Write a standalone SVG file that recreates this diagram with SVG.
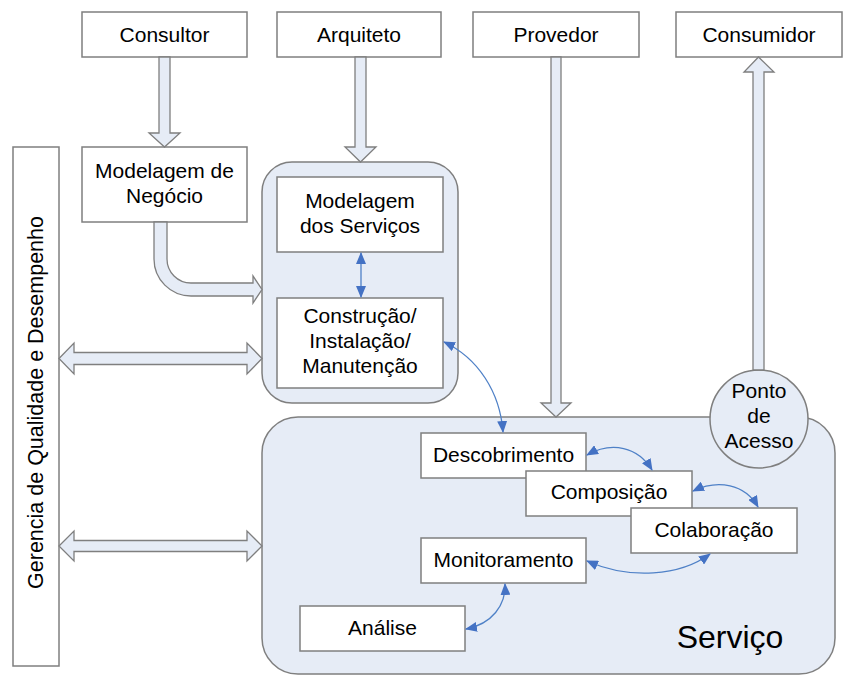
<svg xmlns="http://www.w3.org/2000/svg" width="856" height="690" viewBox="0 0 856 690">
<defs>
<style>
.box{fill:#ffffff;stroke:#7f7f7f;stroke-width:1.5}
.cont{fill:#e6ecf6;stroke:#7f7f7f;stroke-width:1.5}
.fat{fill:#e6ecf6;stroke:#7f7f7f;stroke-width:1.3;stroke-linejoin:miter}
.t{font-family:"Liberation Sans",Arial,sans-serif;font-size:21px;fill:#000;text-anchor:middle}
.big{font-size:32px}
.con{fill:none;stroke:#4f81c7;stroke-width:1.3;marker-start:url(#ah);marker-end:url(#ah)}
</style>
<marker id="ah" viewBox="0 0 12 10" refX="11" refY="5" markerWidth="12" markerHeight="10" markerUnits="userSpaceOnUse" orient="auto-start-reverse">
<path d="M0,0 L12,5 L0,10 z" fill="#4472c4"/>
</marker>
</defs>
<rect width="856" height="690" fill="#ffffff"/>

<g id="gerencia">
<rect class="box" x="13" y="147" width="46" height="519"/>
<text class="t" transform="translate(43,402.5) rotate(-90)" x="0" y="0" style="font-size:21.5px">Gerencia de Qualidade e Desempenho</text>
</g>

<g id="dev-container">
<rect class="cont" x="262" y="162" width="196" height="241" rx="30" ry="30"/>
</g>

<g id="servico-container">
<rect class="cont" x="262" y="417" width="573" height="257" rx="36" ry="36"/>
<text class="t big" x="730" y="648">Serviço</text>
</g>

<g id="consultor"><rect class="box" x="82" y="12" width="165" height="45"/><text class="t" x="164.5" y="42">Consultor</text></g>
<g id="arquiteto"><rect class="box" x="277" y="12" width="164" height="45"/><text class="t" x="359" y="42">Arquiteto</text></g>
<g id="provedor"><rect class="box" x="473" y="12" width="166" height="45"/><text class="t" x="556" y="42">Provedor</text></g>
<g id="consumidor"><rect class="box" x="676" y="12" width="166" height="45"/><text class="t" x="759" y="42">Consumidor</text></g>

<g id="modelagem-negocio"><rect class="box" x="82" y="147" width="165" height="75"/><text class="t" x="164.5" y="178">Modelagem de</text><text class="t" x="164.5" y="203">Negócio</text></g>

<g id="modelagem-servicos"><rect class="box" x="277" y="177" width="166" height="75"/><text class="t" x="360" y="208">Modelagem</text><text class="t" x="360" y="233">dos Serviços</text></g>

<g id="construcao"><rect class="box" x="277" y="298" width="166" height="90"/><text class="t" x="360" y="323">Construção/</text><text class="t" x="360" y="348">Instalação/</text><text class="t" x="360" y="373">Manutenção</text></g>

<g id="descobrimento"><rect class="box" x="421" y="433" width="165" height="45"/><text class="t" x="503.5" y="462">Descobrimento</text></g>
<g id="composicao"><rect class="box" x="526" y="471" width="166" height="45"/><text class="t" x="609" y="499">Composição</text></g>
<g id="colaboracao"><rect class="box" x="631" y="508" width="166" height="45"/><text class="t" x="714" y="537">Colaboração</text></g>
<g id="monitoramento"><rect class="box" x="421" y="538" width="165" height="45"/><text class="t" x="503.5" y="567">Monitoramento</text></g>
<g id="analise"><rect class="box" x="300" y="606" width="165" height="45"/><text class="t" x="382.5" y="635">Análise</text></g>

<g id="ponto-acesso"><circle class="cont" cx="759" cy="419" r="49"/><text class="t" x="759" y="398">Ponto</text><text class="t" x="759" y="423">de</text><text class="t" x="759" y="448">Acesso</text></g>

<g id="connectors">
<polygon class="fat" points="159,57 170,57 170,133 180,133 164.5,147 149,133 159,133"/>
<polygon class="fat" points="355,57 366,57 366,147 376,147 360.5,162 345,147 355,147"/>
<polygon class="fat" points="551,57 561,57 561,403 571,403 556,417 541,403 551,403"/>
<polygon class="fat" points="753,370 764,370 764,72 774,72 758.5,57 744,72 753,72"/>
<path class="fat" d="M154,222 L154,259 A37,37 0 0 0 191,296 L253,296 L253,303 L262,289.5 L253,276 L253,283 L191,283 A24,24 0 0 1 167,259 L167,222 Z"/>
<polygon class="fat" points="59,358.5 74,343 74,352.5 247,352.5 247,343 262,358.5 247,374 247,364.5 74,364.5 74,374"/>
<polygon class="fat" points="59,546 74,531 74,540.5 247,540.5 247,531 262,546 247,561 247,551.5 74,551.5 74,561"/>
<path class="con" d="M361,253 L361,297"/>
<path class="con" d="M444,342 C478,358 500,392 503,432"/>
<path class="con" d="M587,455 C612,441 638,447 652,470"/>
<path class="con" d="M693,491 C718,479 745,484 758,507"/>
<path class="con" d="M587,561 C630,580 680,576 710,554"/>
<path class="con" d="M505,584 C506,605 492,624 466,629"/>
</g>
</svg>
